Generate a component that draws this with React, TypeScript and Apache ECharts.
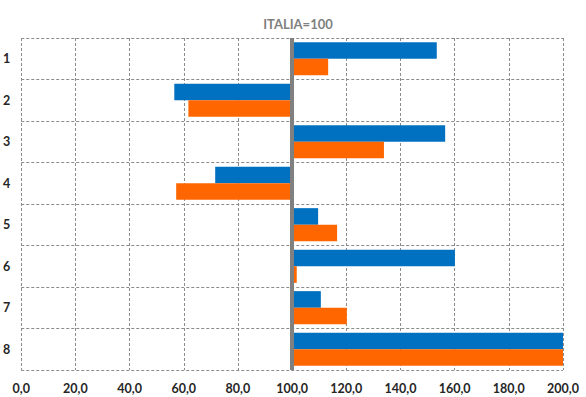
import React, { useEffect, useRef } from "react";
import * as echarts from "echarts";

const categories = ["1", "2", "3", "4", "5", "6", "7", "8"];
const blueValues = [153.4, 56.5, 156.5, 71.6, 109.6, 160.1, 110.6, 200];
const orangeValues = [113.3, 61.7, 133.9, 57.2, 116.6, 101.7, 120.2, 200];
const baseValue = 100;
const titleText = "ITALIA=100";

const FONT = "Lato, 'Open Sans', sans-serif";

export default function App() {
  const ref = useRef<HTMLDivElement>(null);
  useEffect(() => {
    if (!ref.current) return;
    const chart = echarts.init(ref.current, undefined, { renderer: "svg" });
    chart.setOption({
      animation: false,
      title: {
        text: titleText,
        left: 293,
        textAlign: "center",
        top: 12,
        textStyle: { fontFamily: FONT, fontSize: 13, fontWeight: "bold", color: "#808080" },
      },
      grid: { left: 21, right: 23, top: 38, bottom: 27, containLabel: false },
      xAxis: {
        type: "value",
        min: -100,
        max: 100,
        interval: 20,
        axisLine: { show: false },
        axisTick: { show: false },
        splitLine: { show: true, lineStyle: { type: [3, 2], color: "#8c8c8c", width: 1 } },
        axisLabel: {
          fontFamily: FONT,
          fontSize: 12.5,
          fontWeight: "bold",
          color: "#262626",
          margin: 12,
          formatter: (v: number) => (v + baseValue).toFixed(1).replace(".", ","),
        },
      },
      yAxis: {
        type: "category",
        data: categories,
        inverse: true,
        axisLine: { show: false },
        axisTick: { show: false },
        splitLine: { show: true, lineStyle: { type: [3, 2], color: "#8c8c8c", width: 1 } },
        axisLabel: {
          fontFamily: FONT,
          fontSize: 12.5,
          fontWeight: "bold",
          color: "#262626",
          margin: 11,
        },
      },
      series: [
        {
          type: "bar",
          data: blueValues.map((v) => v - baseValue),
          itemStyle: { color: "#0070C0" },
          barGap: "0%",
          barCategoryGap: "20%",
          markLine: {
            silent: true,
            symbol: "none",
            label: { show: false },
            lineStyle: { color: "#808080", width: 4, type: "solid" },
            data: [{ xAxis: 0 }],
          },
        },
        {
          type: "bar",
          data: orangeValues.map((v) => v - baseValue),
          itemStyle: { color: "#FF6600" },
          barGap: "0%",
          barCategoryGap: "20%",
        },
      ],
    });
    return () => chart.dispose();
  }, []);
  return <div ref={ref} style={{ width: 586, height: 397, position: "absolute", left: 0, top: 0 }} />;
}
